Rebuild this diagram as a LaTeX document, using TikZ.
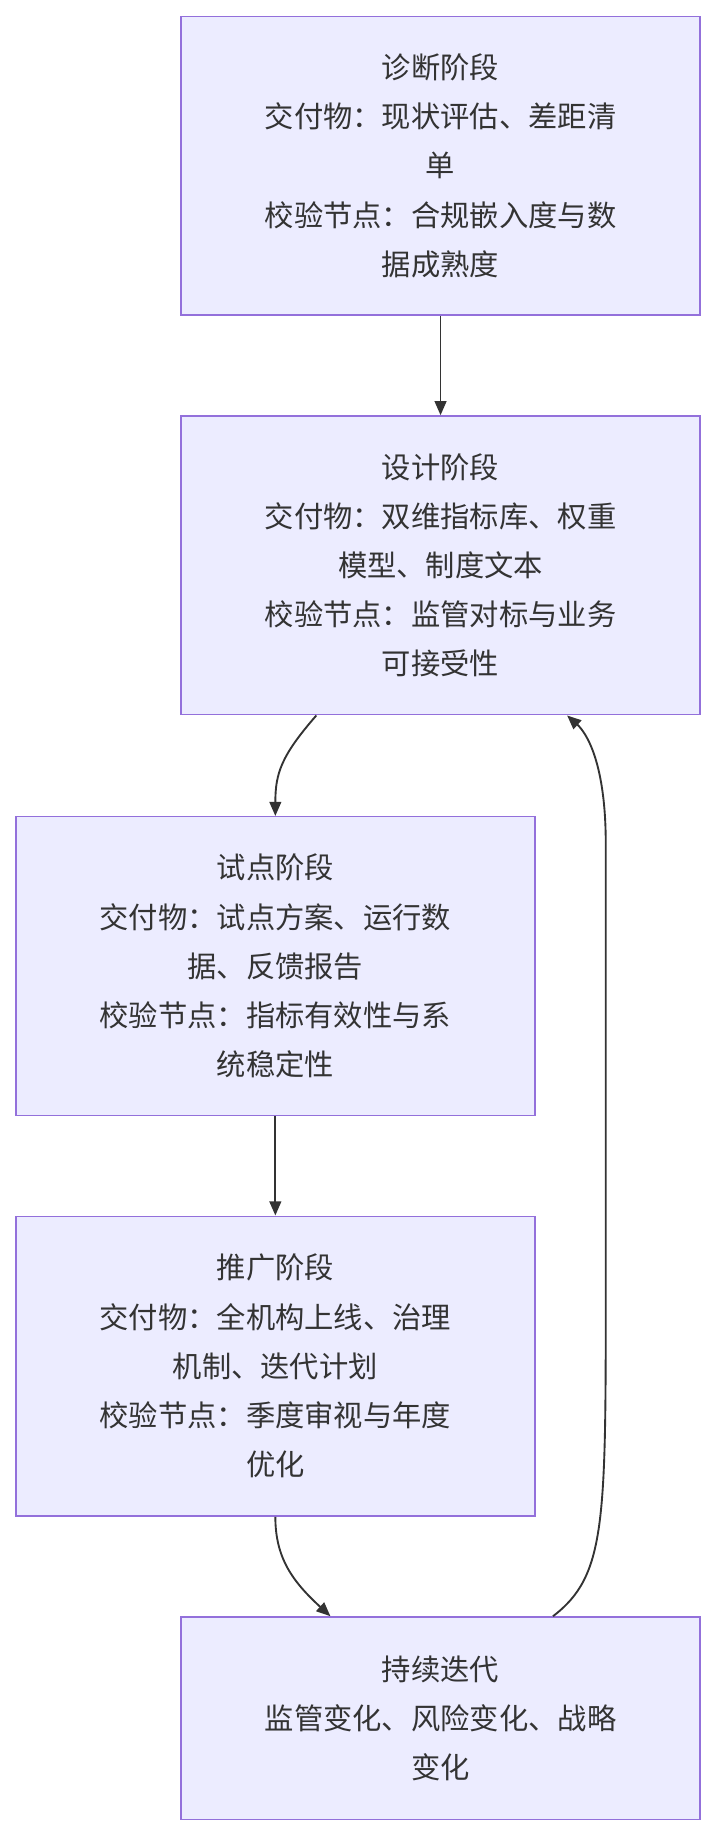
\documentclass[tikz,border=0pt]{standalone}
\usepackage{fontspec}
\setmainfont{Noto Sans CJK SC}
\usetikzlibrary{arrows.meta}
\definecolor{bx}{HTML}{ECECFF}
\definecolor{bd}{HTML}{9370DB}
\definecolor{ln}{HTML}{333333}
\begin{document}
\begin{tikzpicture}[x=1pt,y=-1pt,
  box/.style={draw=bd,fill=bx,line width=1.2pt,minimum width=443pt,align=center,font=\fontsize{25}{42}\selectfont,text=ln},
  ar/.style={draw=ln,line width=1.6pt,-{Triangle[length=12pt,width=10pt]}}]
\useasboundingbox (0,0) rectangle (612,1567);
\node[box,minimum height=255pt] (a) at (376,141.5) {诊断阶段\\交付物：现状评估、差距清\\单\\校验节点：合规嵌入度与数\\据成熟度};
\node[box,minimum height=255pt] (b) at (376,482.5) {设计阶段\\交付物：双维指标库、权重\\模型、制度文本\\校验节点：监管对标与业务\\可接受性};
\node[box,minimum height=255pt] (c) at (235,824.5) {试点阶段\\交付物：试点方案、运行数\\据、反馈报告\\校验节点：指标有效性与系\\统稳定性};
\node[box,minimum height=256pt] (d) at (235,1166) {推广阶段\\交付物：全机构上线、治理\\机制、迭代计划\\校验节点：季度审视与年度\\优化};
\node[box,minimum height=173pt] (e) at (376,1466.5) {持续迭代\\监管变化、风险变化、战略\\变化};
\draw[ar] (a.south) -- (b.north);
\draw[ar] ([xshift=-106pt]b.south) .. controls (240,645) and (235,660) .. ([xshift=0pt]c.north);
\draw[ar] (c.south) -- (d.north);
\draw[ar] (d.south) .. controls (235,1330) and (250,1350) .. ([xshift=-94pt]e.north);
\draw[ar] ([xshift=96pt]e.north) .. controls (517,1345) and (517,1300) .. (517,1100) -- (517,720) .. controls (517,650) and (500,625) .. ([xshift=108pt]b.south);
\end{tikzpicture}
\end{document}
